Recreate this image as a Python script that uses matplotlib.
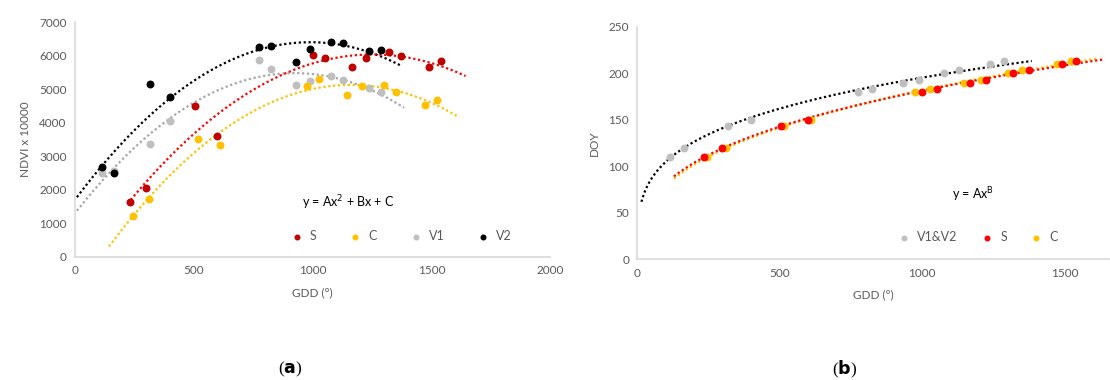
import matplotlib.pyplot as plt
import numpy as np

# GDD values (x) per group
gdd_v = [114, 162, 317, 398, 774, 823, 932, 990, 1077, 1128, 1238, 1286]
gdd_s = [232, 298, 505, 599, 1000, 1051, 1168, 1224, 1320, 1374, 1492, 1541]
gdd_c = [245, 311, 516, 611, 975, 1029, 1146, 1206, 1301, 1352, 1472, 1522]

# panel (a): NDVI x 10000
ndvi_s = [1650, 2050, 4490, 3610, 6030, 5940, 5660, 5940, 6110, 5990, 5670, 5840]
ndvi_c = [1230, 1730, 3500, 3340, 5090, 5310, 4830, 5090, 5110, 4920, 4520, 4680]
ndvi_v1 = [2500, 2560, 3380, 4060, 5880, 5610, 5130, 5230, 5390, 5260, 5020, 4900]
ndvi_v2 = [2690, 2490, 5140, 4770, 6260, 6290, 5800, 6210, 6400, 6380, 6150, 6180]

# panel (b): DOY (same dates for all groups)
doy = [110, 120, 143, 150, 180, 183, 190, 193, 200, 203, 210, 213]

RED_DK = '#C00000'
RED = '#FF0000'
ORANGE = '#FFC000'
GRAY = '#BFBFBF'
TXT = '#595959'

plt.rcParams['font.family'] = ['Lato', 'DejaVu Sans']

fig = plt.figure(figsize=(11.1, 3.8), dpi=100)
ax1 = fig.add_axes([0.0676, 0.3237, 0.428, 0.6184])
ax2 = fig.add_axes([0.5743, 0.3176, 0.425, 0.6121])


def style(ax):
    for s in ['top', 'right']:
        ax.spines[s].set_visible(False)
    for s in ['left', 'bottom']:
        ax.spines[s].set_color('#D9D9D9')
        ax.spines[s].set_linewidth(1.2)
    ax.tick_params(length=0, colors=TXT, labelsize=8.5, pad=6)


def quad_trend(ax, x, y, lo, hi, color):
    p = np.polyfit(x, y, 2)
    xs = np.linspace(lo, hi, 200)
    ax.plot(xs, np.polyval(p, xs), color=color, lw=1.6, ls=(0, (1, 1.2)), zorder=1)


def power_trend(ax, x, y, lo, hi, color):
    b, a = np.polyfit(np.log(x), np.log(y), 1)
    xs = np.linspace(lo, hi, 300)
    ax.plot(xs, np.exp(a) * xs ** b, color=color, lw=1.6, ls=(0, (1, 1.2)), zorder=1)


# ---- panel (a)
style(ax1)
quad_trend(ax1, gdd_v, ndvi_v2, 8, 1376, 'black')
quad_trend(ax1, gdd_v, ndvi_v1, 8, 1385, '#A6A6A6')
quad_trend(ax1, gdd_s, ndvi_s, 221, 1644, RED)
quad_trend(ax1, gdd_c, ndvi_c, 143, 1617, ORANGE)
ax1.scatter(gdd_v, ndvi_v1, s=22, color=GRAY, zorder=2, label='V1')
ax1.scatter(gdd_s, ndvi_s, s=22, color=RED_DK, zorder=3, label='S')
ax1.scatter(gdd_c, ndvi_c, s=22, color=ORANGE, zorder=3, label='C')
ax1.scatter(gdd_v, ndvi_v2, s=22, color='black', zorder=3, label='V2')
ax1.set_xlim(0, 2000)
ax1.set_ylim(0, 7000)
ax1.set_xticks([0, 500, 1000, 1500, 2000])
ax1.set_yticks(range(0, 7001, 1000))
ax1.set_xlabel('GDD (°)', color=TXT, fontsize=8.5, labelpad=8)
ax1.set_ylabel('NDVI x 10000', color=TXT, fontsize=8.5, labelpad=6)
ax1.text(1150, 1620, 'y = Ax$^2$ + Bx + C', ha='center', va='center', fontsize=9, color='black')
h, l = ax1.get_legend_handles_labels()
order = [l.index(k) for k in ['S', 'C', 'V1', 'V2']]
ax1.legend([h[i] for i in order], [l[i] for i in order], ncol=4, loc='center',
           bbox_to_anchor=(0.68, 0.089), frameon=False, handletextpad=0.05,
           columnspacing=2.1, markerscale=0.7, labelcolor=TXT, fontsize=9)

# ---- panel (b)
style(ax2)
power_trend(ax2, gdd_v, doy, 14, 1385, 'black')
power_trend(ax2, gdd_c, doy, 128, 1620, ORANGE)
power_trend(ax2, gdd_s, doy, 128, 1636, RED)
ax2.scatter(gdd_v, doy, s=22, color=GRAY, zorder=2, label='V1&V2')
ax2.scatter(gdd_c, doy, s=22, color=ORANGE, zorder=3, label='C')
ax2.scatter(gdd_s, doy, s=22, color=RED, zorder=3, label='S')
ax2.set_xlim(0, 1657)
ax2.set_ylim(0, 250)
ax2.set_xticks([0, 500, 1000, 1500])
ax2.set_yticks(range(0, 251, 50))
ax2.set_xlabel('GDD (°)', color=TXT, fontsize=8.5, labelpad=8)
ax2.set_ylabel('DOY', color=TXT, fontsize=8.5, labelpad=6)
ax2.text(1180, 70, 'y = Ax$^\\mathregular{B}$', ha='center', va='center', fontsize=9, color='black')
h, l = ax2.get_legend_handles_labels()
order = [l.index(k) for k in ['V1&V2', 'S', 'C']]
ax2.legend([h[i] for i in order], [l[i] for i in order], ncol=3, loc='center',
           bbox_to_anchor=(0.715, 0.096), frameon=False, handletextpad=0.05,
           columnspacing=1.35, markerscale=0.7, labelcolor=TXT, fontsize=9)

fig.text(290 / 1110, 1 - 369 / 380, '($\\mathbf{a}$)', ha='center', va='center',
         fontsize=12.5, family='Liberation Serif')
fig.text(845 / 1110, 1 - 369 / 380, '($\\mathbf{b}$)', ha='center', va='center',
         fontsize=12.5, family='Liberation Serif')

fig.savefig('out.png', dpi=100)
